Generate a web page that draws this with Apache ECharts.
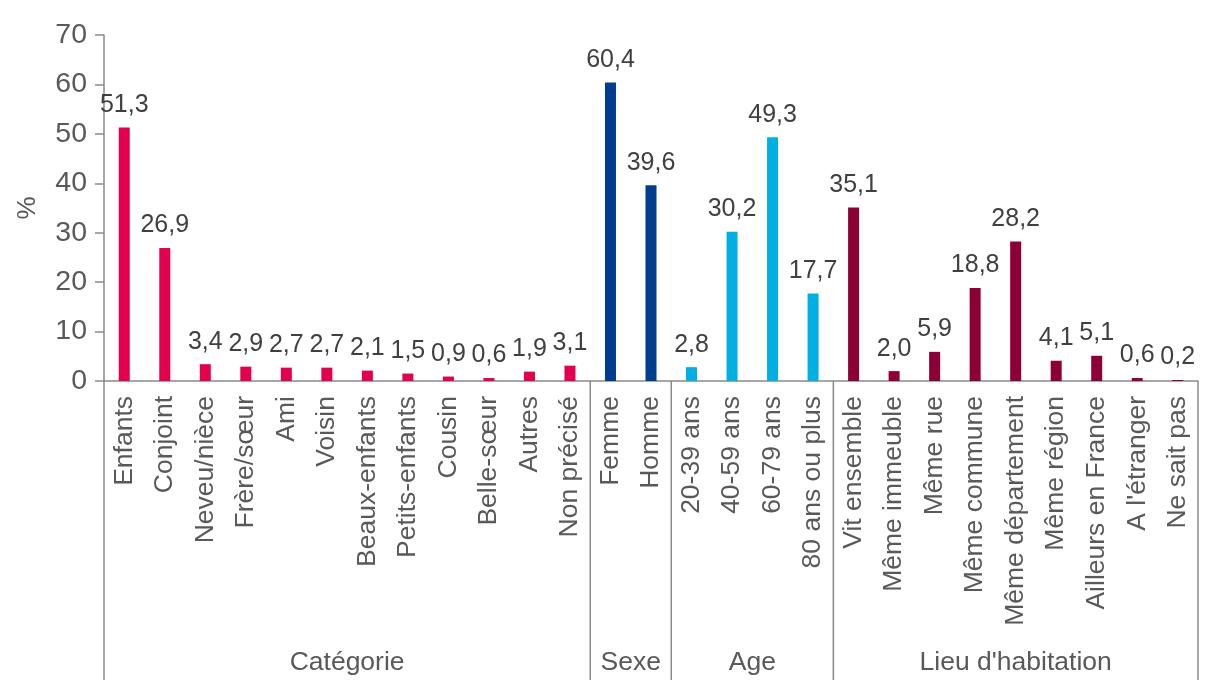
<!DOCTYPE html>
<html>
<head>
<meta charset="utf-8">
<script src="https://cdn.jsdelivr.net/npm/echarts@6/dist/echarts.min.js"></script>
<style>
html,body{margin:0;padding:0;background:#fff;}
#chart{width:1208px;height:689px;}
</style>
</head>
<body>
<div id="chart"></div>
<script>
// ---- Data ----
const categories = [
  'Enfants','Conjoint','Neveu/nièce','Frère/sœur','Ami','Voisin','Beaux-enfants','Petits-enfants','Cousin','Belle-sœur','Autres','Non précisé',
  'Femme','Homme',
  '20-39 ans','40-59 ans','60-79 ans','80 ans ou plus',
  'Vit ensemble','Même immeuble','Même rue','Même commune','Même département','Même région','Ailleurs en France',"A l'étranger",'Ne sait pas'
];
const values = [
  51.3, 26.9, 3.4, 2.9, 2.7, 2.7, 2.1, 1.5, 0.9, 0.6, 1.9, 3.1,
  60.4, 39.6,
  2.8, 30.2, 49.3, 17.7,
  35.1, 2.0, 5.9, 18.8, 28.2, 4.1, 5.1, 0.6, 0.2
];
const groupNames = ['Catégorie', 'Sexe', 'Age', "Lieu d'habitation"];
const groupSizes = [12, 2, 4, 9];
const groupColors = ['#E2004F', '#003D8F', '#00B0E5', '#8C0036'];
const yTicks = [0, 10, 20, 30, 40, 50, 60, 70];

// ---- Build ----
const FONT = "'Liberation Sans', Arial, sans-serif";
const itemColors = [];
groupSizes.forEach((n, g) => { for (let i = 0; i < n; i++) itemColors.push(groupColors[g]); });

const chart = echarts.init(document.getElementById('chart'), null, {renderer: 'canvas'});
const option = {
  animation: false,
  backgroundColor: '#fff',
  grid: {left: 104, right: 10, top: 35, bottom: 308, containLabel: false},
  xAxis: {
    type: 'category',
    data: categories,
    boundaryGap: true,
    axisLine: {show: true, lineStyle: {color: '#8a8a8a', width: 1.5}},
    axisTick: {show: false},
    axisLabel: {
      rotate: 90, interval: 0, margin: 15,
      color: '#595959', fontFamily: FONT, fontSize: 26.5
    },
    splitLine: {show: false}
  },
  yAxis: {
    type: 'value',
    min: yTicks[0], max: yTicks[yTicks.length - 1], interval: 10,
    name: '%', nameLocation: 'middle', nameRotate: 90, nameGap: 63,
    nameTextStyle: {color: '#595959', fontFamily: FONT, fontSize: 26},
    axisLine: {show: true, lineStyle: {color: '#8a8a8a', width: 1.5}},
    axisTick: {show: true, inside: false, length: 9, lineStyle: {color: '#8a8a8a', width: 1.5}},
    axisLabel: {color: '#595959', fontFamily: FONT, fontSize: 28.5, margin: 17},
    splitLine: {show: false}
  },
  series: [{
    type: 'bar',
    barWidth: 11,
    data: values.map((v, i) => ({value: v, itemStyle: {color: itemColors[i]}})),
    label: {
      show: true, position: 'top', distance: 10,
      color: '#404040', fontFamily: FONT, fontSize: 25,
      formatter: p => p.value.toFixed(1).replace('.', ',')
    }
  }]
};
chart.setOption(option);

// ---- Group separators and group labels (positions from the axes) ----
function drawGroups() {
  const c0 = chart.convertToPixel({xAxisIndex: 0}, 0);
  const c1 = chart.convertToPixel({xAxisIndex: 0}, 1);
  const bw = c1 - c0;
  const yBase = chart.convertToPixel({yAxisIndex: 0}, 0);
  const yBottom = 680;
  const elements = [];
  let start = 0;
  const boundaries = [start];
  groupSizes.forEach(n => { start += n; boundaries.push(start); });
  boundaries.forEach(b => {
    const x = c0 - bw / 2 + b * bw;
    elements.push({
      type: 'line',
      shape: {x1: x, y1: yBase, x2: x, y2: yBottom},
      style: {stroke: '#8a8a8a', lineWidth: 1.5}
    });
  });
  for (let g = 0; g < groupNames.length; g++) {
    const xL = c0 - bw / 2 + boundaries[g] * bw;
    const xR = c0 - bw / 2 + boundaries[g + 1] * bw;
    elements.push({
      type: 'text',
      x: (xL + xR) / 2, y: 663,
      style: {
        text: groupNames[g], fill: '#595959', font: '26.5px ' + FONT,
        textAlign: 'center', textVerticalAlign: 'middle'
      }
    });
  }
  chart.setOption({graphic: {elements: elements}});
}
drawGroups();
</script>
</body>
</html>
